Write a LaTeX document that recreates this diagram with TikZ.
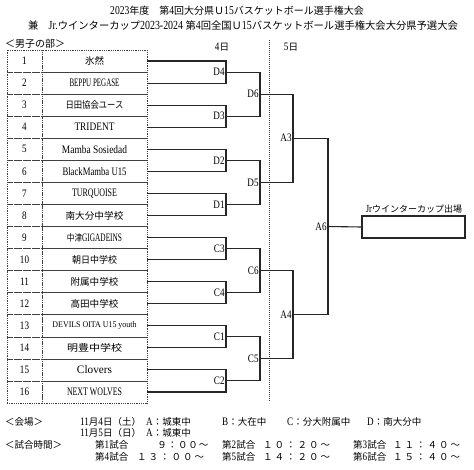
\documentclass[tikz,border=0pt]{standalone}
\usepackage{graphicx}
\usepackage{fontspec}
\setmainfont{Liberation Serif}[FakeStretch=0.8, Scale=1.2]
\newfontfamily\jp{Noto Sans CJK JP}
\newcommand\J[1]{{\jp #1}}
\newcommand\fw[2]{\resizebox{#1pt}{\height}{#2}}
\newcommand\tcw[2]{\makebox[#1pt]{\J{#2}}}
\newcommand\tmx[6]{\tcw{11.5}{#1}\tcw{11.5}{#2}\tcw{11.5}{#3}\tcw{11.5}{#4}\tcw{11.5}{#5}\tcw{11.5}{#6}}
\tikzset{
  cell/.style={draw=black!75, line width=0.6pt, dash pattern=on 0.9pt off 0.9pt,
    minimum height=22.06pt, inner sep=0pt, outer sep=0pt},
  numc/.style={cell, minimum width=35pt, font=\fontsize{9.5}{9.5}\selectfont},
  namec/.style={cell, minimum width=105pt, font=\fontsize{9.5}{9.5}\selectfont},
  br/.style={line width=1.1pt, draw=black!85},
  sep/.style={line width=1.3pt, draw=black!80, dash pattern=on 1pt off 1pt},
  lb/.style={anchor=east, inner sep=1.2pt, font=\fontsize{9.5}{9.5}\selectfont},
  bt/.style={anchor=west, inner sep=0pt, font=\fontsize{9.5}{9.5}\selectfont},
  winbox/.style={draw=black!85, line width=1.1pt, minimum width=103pt, minimum height=22pt, inner sep=0pt},
}
\begin{document}
\begin{tikzpicture}[x=1pt,y=-1pt]
\useasboundingbox (0,0) rectangle (474,469);
\fill[white] (0,0) rectangle (474,469);

% titles
\node[inner sep=0pt, font=\fontsize{10}{10}\selectfont] (title1) at (237,11)
  {2023\J{年度　第}4\J{回大分県Ｕ}15\J{バスケットボール選手権大会}};
\node[inner sep=0pt, font=\fontsize{10.3}{10.3}\selectfont] (title2) at (243,26)
  {\J{兼　}Jr.\J{ウインターカップ}2023-2024 \J{第}4\J{回全国Ｕ}15\J{バスケットボール選手権大会大分県予選大会}};
\node[bt, font=\fontsize{10}{10}\selectfont] (div) at (5,44) {\J{＜男子の部＞}};
\node[inner sep=0pt, font=\fontsize{9.5}{9.5}\selectfont] (day4) at (222,47) {4\J{日}};
\node[inner sep=0pt, font=\fontsize{9.5}{9.5}\selectfont] (day5) at (291,47) {5\J{日}};

% table
\foreach \i/\nm in {
  1/{\J{氷然}},
  2/{\fw{50}{BEPPU PEGASE}},
  3/{\fw{58}{\J{日田協会ユース}}},
  4/{\fw{40}{TRIDENT}},
  5/{\fw{65}{Mamba Sosiedad}},
  6/{\fw{64}{BlackMamba U15}},
  7/{\fw{45}{TURQUOISE}},
  8/{\fw{58}{\J{南大分中学校}}},
  9/{\fw{55}{\J{中津}GIGADEINS}},
  10/{\fw{45}{\J{朝日中学校}}},
  11/{\fw{48}{\J{附属中学校}}},
  12/{\fw{48}{\J{高田中学校}}},
  13/{\resizebox{84pt}{6pt}{DEVILS OITA U15 youth}},
  14/{\fw{55}{\J{明豊中学校}}},
  15/{\fw{35}{Clovers}},
  16/{\fw{55}{NEXT WOLVES}}} {
  \node[numc] (n\i) at (24.5,{50+22.0625*(\i-0.5)}) {\i};
  \node[namec] (t\i) at (94.5,{50+22.0625*(\i-0.5)}) {\nm};
}

% match points
\coordinate (d4) at (226,72.06);
\coordinate (d3) at (226,116.19);
\coordinate (d2) at (226,160.31);
\coordinate (d1) at (226,204.44);
\coordinate (c3) at (226,248.56);
\coordinate (c4) at (226,292.69);
\coordinate (c1) at (226,336.81);
\coordinate (c2) at (226,380.94);
\coordinate (d6) at (260,94.13);
\coordinate (d5) at (260,182.38);
\coordinate (c6) at (260,270.63);
\coordinate (c5) at (260,358.88);
\coordinate (a3) at (293,138.25);
\coordinate (a4) at (293,314.75);
\coordinate (a6) at (328,226.5);

% separator
\coordinate (s1) at (269.5,40);
\coordinate (s2) at (269.5,402);
\draw[sep] (s1) -- (s2);

% first round
\draw[br] (t1.east) -| (d4) |- (t2.east);
\draw[br] (t3.east) -| (d3) |- (t4.east);
\draw[br] (t5.east) -| (d2) |- (t6.east);
\draw[br] (t7.east) -| (d1) |- (t8.east);
\draw[br] (t9.east) -| (c3) |- (t10.east);
\draw[br] (t11.east) -| (c4) |- (t12.east);
\draw[br] (t13.east) -| (c1) |- (t14.east);
\draw[br] (t15.east) -| (c2) |- (t16.east);
% second round
\draw[br] (d4) -| (d6) |- (d3);
\draw[br] (d2) -| (d5) |- (d1);
\draw[br] (c3) -| (c6) |- (c4);
\draw[br] (c1) -| (c5) |- (c2);
% semi
\draw[br] (d6) -| (a3) |- (d5);
\draw[br] (c6) -| (a4) |- (c5);
% final
\draw[br] (a3) -| (a6) |- (a4);
\node[winbox] (win) at (413.5,227) {};
\draw[br] (a6) -- (win.west);
\node[inner sep=0pt, font=\fontsize{9}{9}\selectfont] (winlbl) at (414,209.5) {Jr\J{ウインターカップ出場}};

% labels
\node[lb] (ld4) at (d4) {D4};
\node[lb] (ld3) at (d3) {D3};
\node[lb] (ld2) at (d2) {D2};
\node[lb] (ld1) at (d1) {D1};
\node[lb] (lc3) at (c3) {C3};
\node[lb] (lc4) at (c4) {C4};
\node[lb] (lc1) at (c1) {C1};
\node[lb] (lc2) at (c2) {C2};
\node[lb] (ld6) at (d6) {D6};
\node[lb] (ld5) at (d5) {D5};
\node[lb] (lc6) at (c6) {C6};
\node[lb] (lc5) at (c5) {C5};
\node[lb] (la3) at (a3) {A3};
\node[lb] (la4) at (a4) {A4};
\node[lb] (la6) at (a6) {A6};

% footer
\node[bt] (f1) at (5,422) {\J{＜会場＞}};
\node[bt] (f2) at (80,422) {11\J{月}4\J{日（土）}};
\node[bt] (f3) at (146,422) {A\J{：城東中}};
\node[bt] (f4) at (222,422) {B\J{：大在中}};
\node[bt] (f5) at (287,422) {C\J{：分大附属中}};
\node[bt] (f6) at (367,422) {D\J{：南大分中}};
\node[bt] (f7) at (80,433) {11\J{月}5\J{日（日）}};
\node[bt] (f8) at (146,433) {A\J{：城東中}};
\node[bt] (f9) at (5,445) {\J{＜試合時間＞}};
\node[bt] (g1) at (95,445) {\J{第}1\J{試合}};
\node[bt, anchor=east] (g2) at (209,445) {\tcw{10.4}{９}\tcw{10.4}{：}\tcw{10.4}{０}\tcw{10.4}{０}\tcw{10.4}{～}};
\node[bt] (g3) at (222,445) {\J{第}2\J{試合}};
\node[bt] (g4) at (262,445) {\tmx{１}{０}{：}{２}{０}{～}};
\node[bt] (g5) at (353,445) {\J{第}3\J{試合}};
\node[bt] (g6) at (392,445) {\tmx{１}{１}{：}{４}{０}{～}};
\node[bt] (h1) at (95,457) {\J{第}4\J{試合}};
\node[bt] (h2) at (136,457) {\tmx{１}{３}{：}{０}{０}{～}};
\node[bt] (h3) at (222,457) {\J{第}5\J{試合}};
\node[bt] (h4) at (262,457) {\tmx{１}{４}{：}{２}{０}{～}};
\node[bt] (h5) at (353,457) {\J{第}6\J{試合}};
\node[bt] (h6) at (392,457) {\tmx{１}{５}{：}{４}{０}{～}};
\end{tikzpicture}
\end{document}
